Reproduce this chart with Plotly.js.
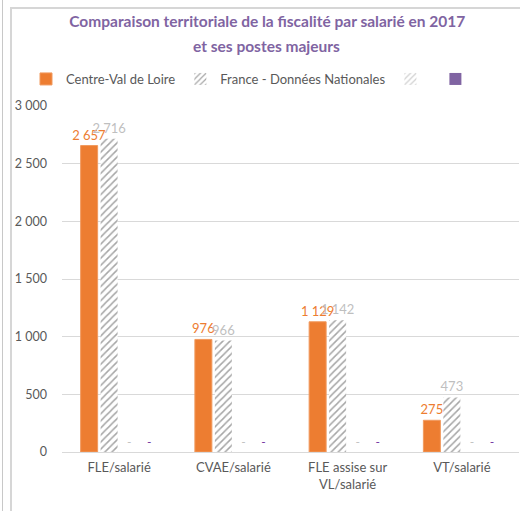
<!DOCTYPE html>
<html>
<head>
<meta charset="utf-8">
<script src="https://cdn.plot.ly/plotly-3.0.1.min.js"></script>
<style>
  body { margin: 0; background: #fff; }
  #wrap { position: relative; width: 520px; height: 511px; overflow: hidden; }
  #chart { position: absolute; left: 0; top: 0; width: 520px; height: 511px; }
  .edge1 { position: absolute; left: 2px; top: 0; width: 0; height: 511px; border-left: 1px solid #c8c8c8; pointer-events: none; }
  .frame { position: absolute; left: 10px; top: 7px; width: 520px; height: 520px; border-left: 2px solid #d6d6d6; border-top: 2px solid #d6d6d6; pointer-events: none; }
</style>
</head>
<body>
<div id="wrap">
  <div id="chart"></div>
  <div class="edge1"></div>
  <div class="frame"></div>
</div>
<script>
const categories = ["FLE/salarié", "CVAE/salarié", "FLE assise sur<br>VL/salarié", "VT/salarié"];
const centreValues = [2657, 976, 1129, 275];
const franceValues = [2716, 966, 1142, 473];
const series3Values = [0, 0, 0, 0];
const series4Values = [0, 0, 0, 0];
const seriesNames = ["Centre-Val de Loire", "France - Données Nationales", "", ""];
const yTicks = [0, 500, 1000, 1500, 2000, 2500, 3000];
const titleLine1 = "Comparaison territoriale de la fiscalité par salarié en 2017";
const titleLine2 = "et ses postes majeurs";

const FONT = "Lato, 'Open Sans', sans-serif";

const traces = [
  {
    type: "bar", name: seriesNames[0], x: categories, y: centreValues,
    marker: { color: "#ed7d31", line: { color: "#f19a5e", width: 1 } },
    texttemplate: "%{y:,.0f}", textposition: "outside", cliponaxis: false, constraintext: "none",
    textfont: { color: "#ed7d31", size: 13, family: FONT }
  },
  {
    type: "bar", name: seriesNames[1], x: categories, y: franceValues,
    marker: { color: "#ffffff", line: { width: 0 },
      pattern: { shape: "/", fgcolor: "#a6a6a6", bgcolor: "#ffffff", size: 5, solidity: 0.3 } },
    texttemplate: "%{y:,.0f}", textposition: "outside", cliponaxis: false, constraintext: "none",
    textfont: { color: "#bfbfbf", size: 13, family: FONT }
  },
  {
    type: "bar", name: seriesNames[2], x: categories, y: series3Values,
    marker: { color: "#ffffff", line: { width: 0 },
      pattern: { shape: "/", fgcolor: "#d0d0d0", bgcolor: "#ffffff", size: 5, solidity: 0.3 } },
    texttemplate: "-", textposition: "outside", cliponaxis: false, constraintext: "none",
    textfont: { color: "#bfbfbf", size: 12, family: FONT }
  },
  {
    type: "bar", name: seriesNames[3], x: categories, y: series4Values,
    marker: { color: "#8064a2" },
    texttemplate: "-", textposition: "outside", cliponaxis: false, constraintext: "none",
    textfont: { color: "#7030a0", size: 12, family: FONT }
  }
];

const layout = {
  width: 520, height: 511,
  margin: { l: 62, r: 1, t: 106, b: 59 },
  paper_bgcolor: "rgba(0,0,0,0)", plot_bgcolor: "#ffffff",
  separators: ", ",
  font: { family: FONT, color: "#595959", size: 12.5 },
  barmode: "group", bargap: 0.3, bargroupgap: 0.15,
  showlegend: true,
  title: {
    text: "<b>" + titleLine1 + "</b>",
    font: { family: FONT, size: 15.5, color: "#8064a2" },
    xref: "container", x: 0.514, xanchor: "center",
    yref: "container", y: 1 - 22 / 511, yanchor: "middle"
  },
  annotations: [{
    text: "<b>" + titleLine2 + "</b>", showarrow: false,
    xref: "paper", yref: "paper",
    x: (266 - 62) / 457, xanchor: "center",
    y: 1 + (106 - 46) / 346, yanchor: "middle",
    font: { family: FONT, size: 15.5, color: "#8064a2" }
  }],
  legend: {
    orientation: "h",
    xref: "container", yref: "container",
    x: 0.05, xanchor: "left",
    y: 1 - 79 / 511, yanchor: "middle",
    font: { family: FONT, size: 13, color: "#595959" },
    itemwidth: 30, traceorder: "normal",
    bgcolor: "rgba(0,0,0,0)"
  },
  xaxis: {
    type: "category", showline: false, ticks: "", showgrid: false,
    ticklabelstandoff: 6,
    tickfont: { family: FONT, size: 13, color: "#595959" }
  },
  yaxis: {
    range: [0, 3000], tickvals: yTicks, tickformat: ",.0f",
    showgrid: true, gridcolor: "#d9d9d9", gridwidth: 1,
    zeroline: true, zerolinecolor: "#d9d9d9", zerolinewidth: 1,
    showline: false, ticks: "", ticklabelstandoff: 14,
    tickfont: { family: FONT, size: 12.5, color: "#595959" }
  }
};

Plotly.newPlot("chart", traces, layout, { displayModeBar: false, staticPlot: true });
</script>
</body>
</html>
